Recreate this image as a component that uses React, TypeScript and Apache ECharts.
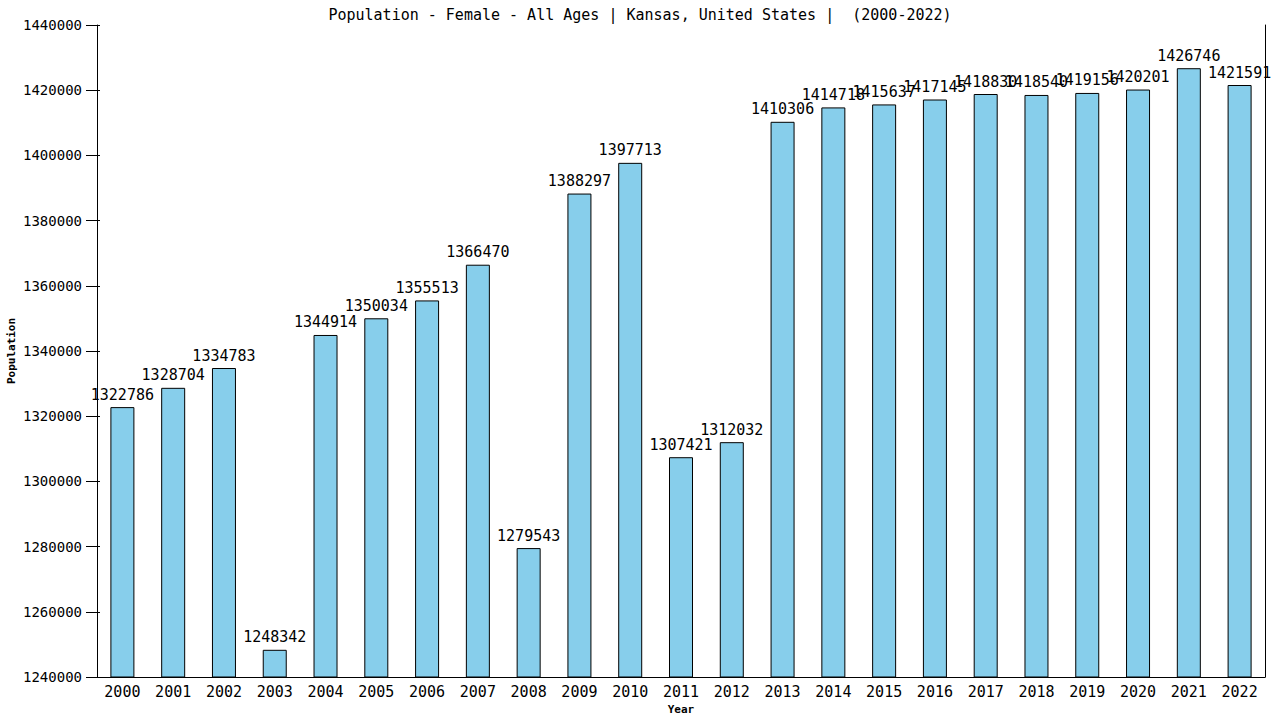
import React, { useEffect, useRef } from 'react';
import * as echarts from 'echarts';

const years = [
  '2000', '2001', '2002', '2003', '2004', '2005', '2006', '2007', '2008', '2009', '2010', '2011',
  '2012', '2013', '2014', '2015', '2016', '2017', '2018', '2019', '2020', '2021', '2022',
];
const population = [
  1322786, 1328704, 1334783, 1248342, 1344914, 1350034, 1355513, 1366470, 1279543, 1388297, 1397713,
  1307421, 1312032, 1410306, 1414718, 1415637, 1417145, 1418830, 1418540, 1419156, 1420201, 1426746,
  1421591,
];
const yMin = 1240000;
const yMax = 1440000;
const yStep = 20000;

const mono = '"DejaVu Sans Mono", monospace';

const App: React.FC = () => {
  const chartRef = useRef<HTMLDivElement | null>(null);

  useEffect(() => {
    if (!chartRef.current) return;
    const chart = echarts.init(chartRef.current, undefined, { renderer: 'svg' });

    const option = {
      animation: false,
      backgroundColor: '#ffffff',
      title: {
        text: 'Population - Female - All Ages | Kansas, United States |  (2000-2022)',
        left: 'center',
        top: 2,
        textStyle: { fontFamily: mono, fontSize: 15, fontWeight: 'normal', color: '#000' },
      },
      grid: { left: 97, right: 15, top: 25, bottom: 43, outerBoundsMode: 'none', containLabel: false },
      xAxis: {
        type: 'category',
        data: years,
        name: 'Year',
        nameLocation: 'middle',
        nameGap: 27,
        nameMoveOverlap: false,
        nameTextStyle: { fontFamily: mono, fontSize: 11, fontWeight: 'bold', color: '#000' },
        axisLine: { lineStyle: { color: '#000', width: 1 } },
        axisTick: { show: false },
        axisLabel: { fontFamily: mono, fontSize: 15, color: '#000', margin: 7, interval: 0 },
      },
      yAxis: [
        {
          type: 'value',
          min: yMin,
          max: yMax,
          interval: yStep,
          name: 'Population',
          nameLocation: 'middle',
          nameGap: 80,
          nameMoveOverlap: false,
          nameTextStyle: { fontFamily: mono, fontSize: 11, fontWeight: 'bold', color: '#000' },
          axisLine: { show: true, lineStyle: { color: '#000', width: 1 } },
          axisTick: { show: true, length: 11, lineStyle: { color: '#000' } },
          axisLabel: {
            fontFamily: mono,
            fontSize: 14,
            color: '#000',
            margin: 15,
            formatter: (v: number) => String(v),
          },
          splitLine: { show: false },
        },
        {
          type: 'value',
          position: 'right',
          min: yMin,
          max: yMax,
          interval: yStep,
          axisLine: { show: true, lineStyle: { color: '#000', width: 1 } },
          axisTick: { show: false },
          axisLabel: { show: false },
          splitLine: { show: false },
        },
        {
          type: 'value',
          position: 'left',
          min: yMin,
          max: yMax,
          interval: yStep,
          axisLine: { show: false },
          axisTick: { show: true, inside: true, length: 3, lineStyle: { color: '#000' } },
          axisLabel: { show: false },
          splitLine: { show: false },
        },
      ],
      series: [
        {
          type: 'bar',
          data: population,
          barWidth: 24,
          itemStyle: { color: '#87CEEB', borderColor: '#000', borderWidth: 1 },
          label: {
            show: true,
            position: 'top',
            distance: 5,
            fontFamily: mono,
            fontSize: 15,
            color: '#000',
          },
        },
      ],
    };

    chart.setOption(option);
    return () => {
      chart.dispose();
    };
  }, []);

  return (
    <div
      ref={chartRef}
      style={{ position: 'absolute', left: 0, top: 0, width: '1280px', height: '720px' }}
    />
  );
};

export default App;
